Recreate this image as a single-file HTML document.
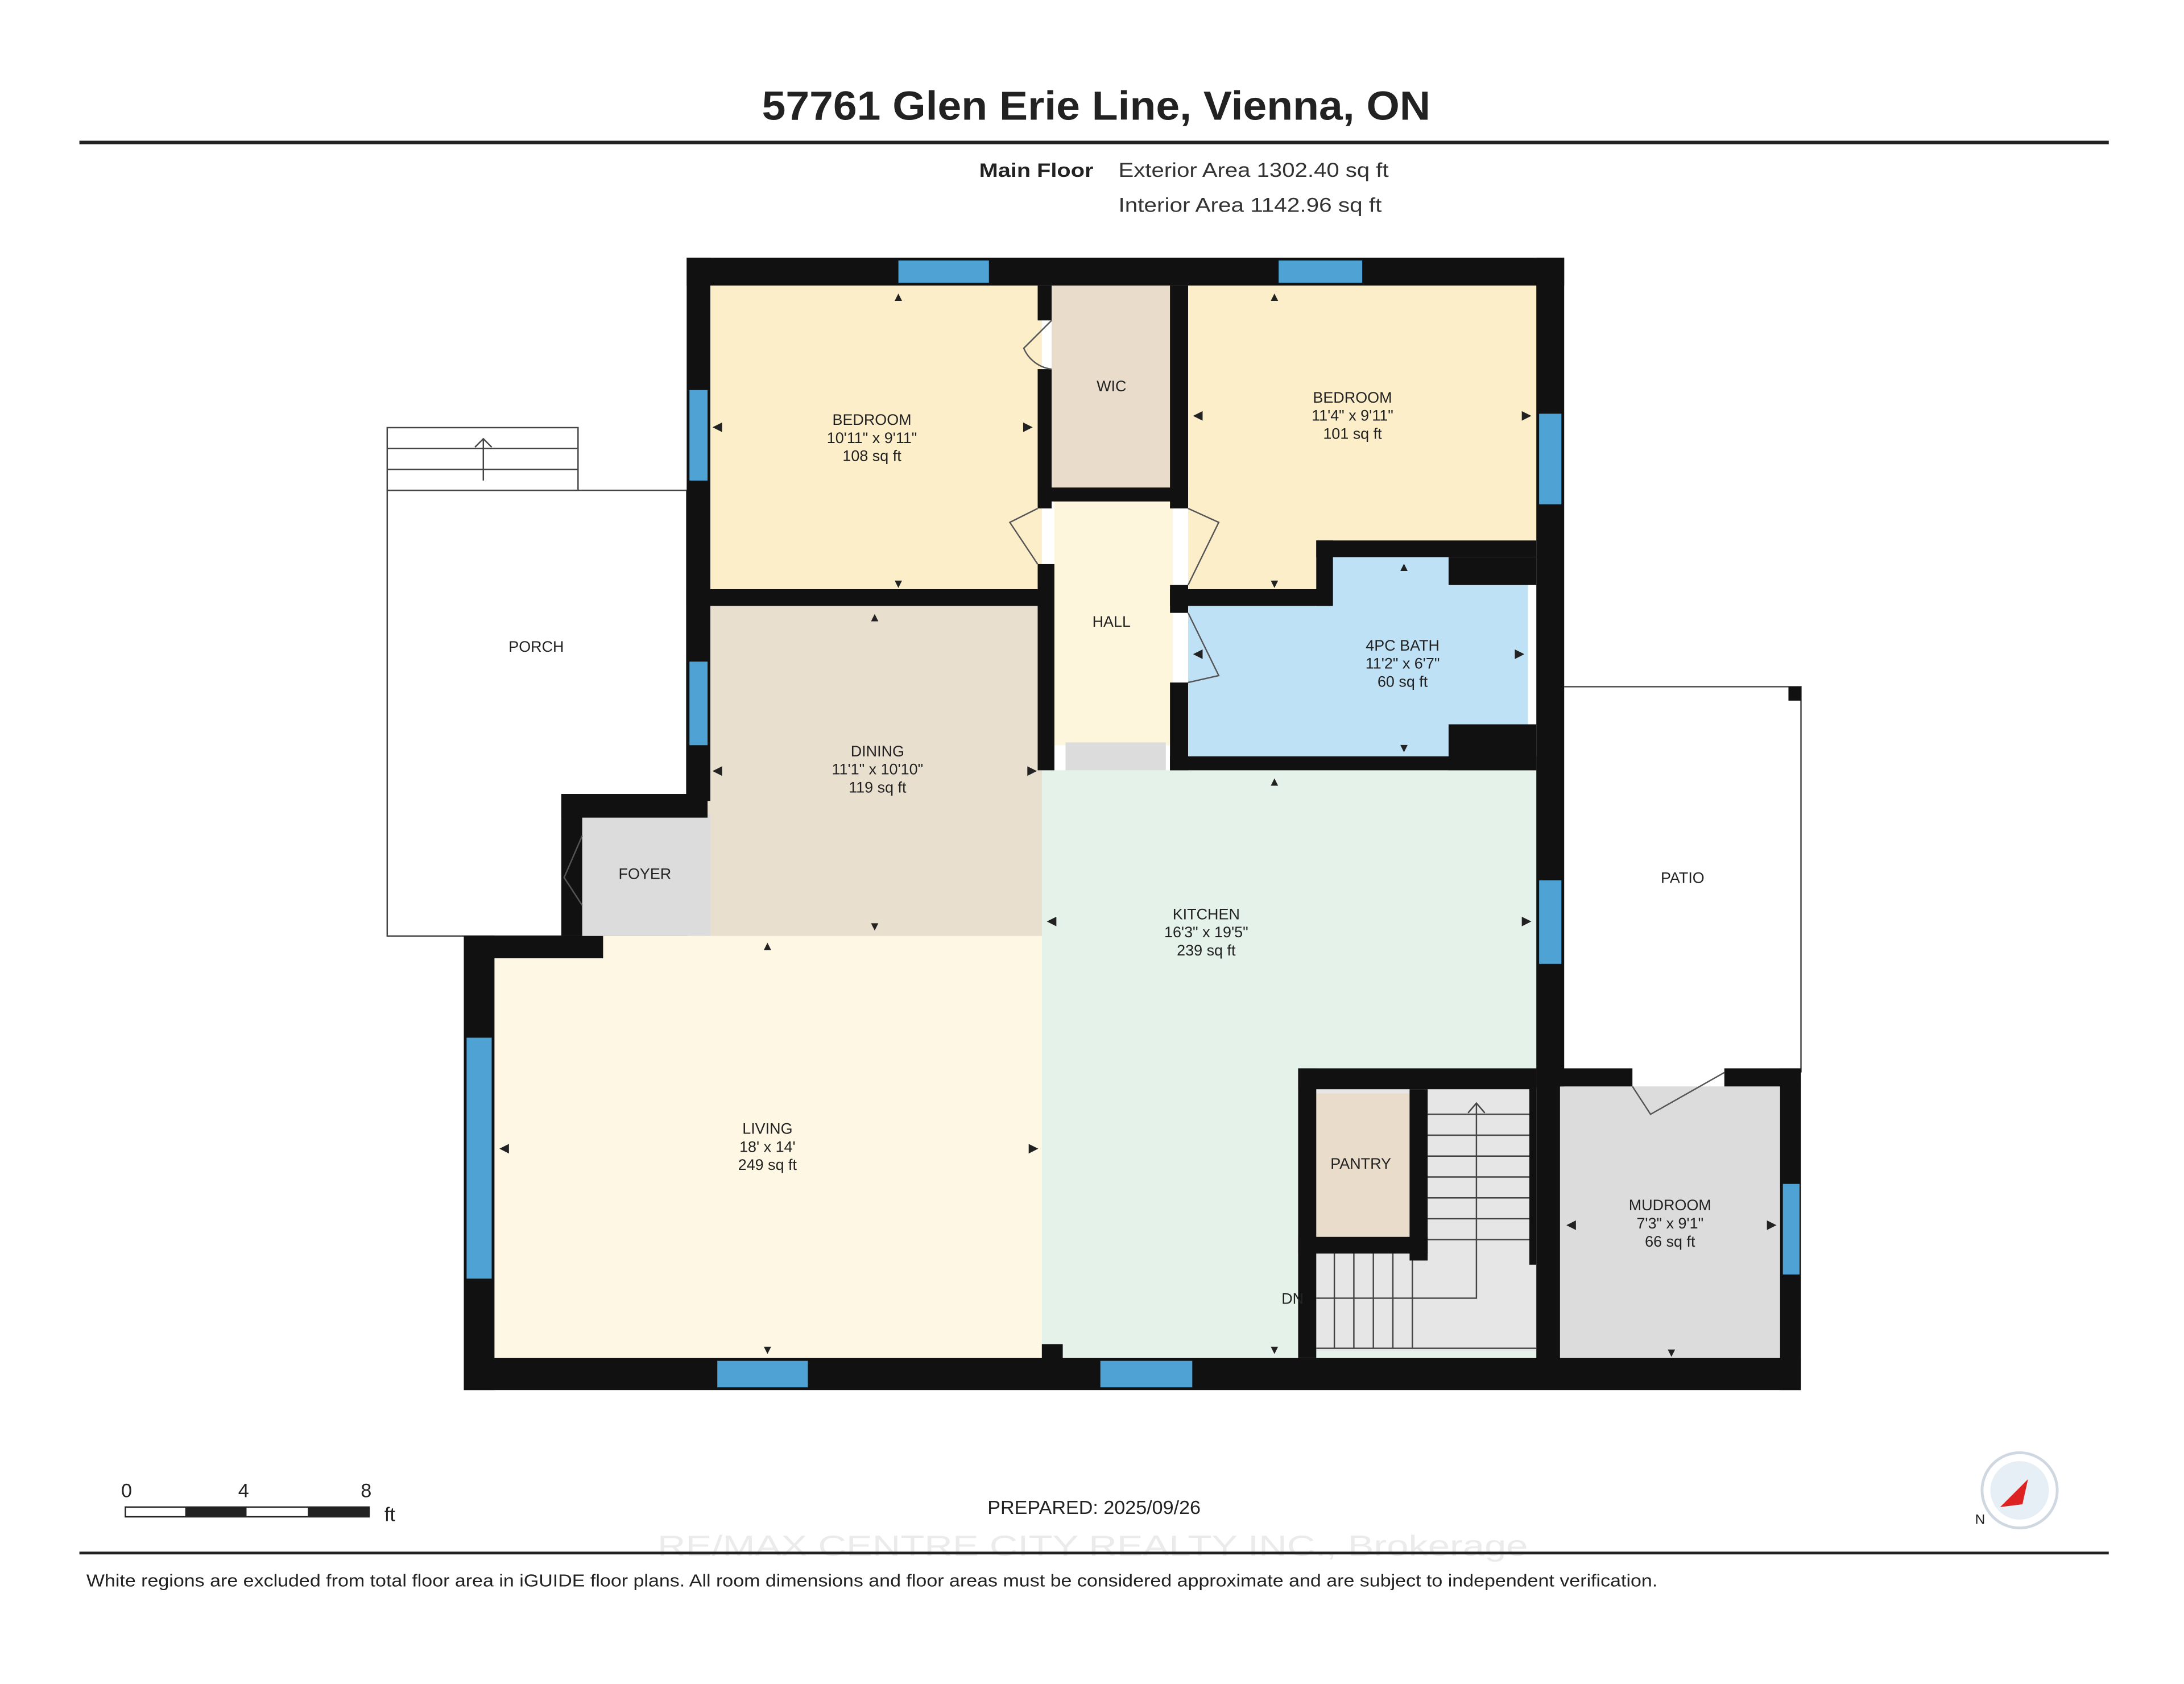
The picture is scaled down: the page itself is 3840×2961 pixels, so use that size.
<!DOCTYPE html>
<html><head><meta charset="utf-8">
<style>
html,body{margin:0;padding:0;background:#fff;}
svg{display:block;}
text{font-family:"Liberation Sans",Arial,sans-serif;}
</style></head>
<body>
<svg width="3840" height="2961" viewBox="0 0 1568 1209" xmlns="http://www.w3.org/2000/svg">
<rect x="0" y="0" width="1568" height="1209" fill="#fff"/>
<text x="547" y="86" font-size="29" font-weight="bold" fill="#222" textLength="480" lengthAdjust="spacingAndGlyphs">57761 Glen Erie Line, Vienna, ON</text>
<rect x="57" y="101" width="1457" height="2.5" fill="#222"/>
<text x="703" y="127" font-size="14" font-weight="bold" fill="#222" textLength="82" lengthAdjust="spacingAndGlyphs">Main Floor</text>
<text x="803" y="127" font-size="14.5" fill="#333" textLength="194" lengthAdjust="spacingAndGlyphs">Exterior Area 1302.40 sq ft</text>
<text x="803" y="152" font-size="14.5" fill="#333" textLength="189" lengthAdjust="spacingAndGlyphs">Interior Area 1142.96 sq ft</text>

<!-- porch & patio outlines -->
<rect x="278" y="352" width="215" height="320" fill="#fff" stroke="#444" stroke-width="1"/>
<rect x="278" y="307" width="137" height="45" fill="#fff" stroke="#444" stroke-width="1"/>
<line x1="278" y1="322" x2="415" y2="322" stroke="#444"/>
<line x1="278" y1="337" x2="415" y2="337" stroke="#444"/>
<line x1="347" y1="345" x2="347" y2="315" stroke="#444"/>
<path d="M341 321 L347 315 L353 321" fill="none" stroke="#444"/>
<path d="M1123 493 H1293 V770" fill="none" stroke="#444"/>
<rect x="1284" y="493" width="9" height="10" fill="#111"/>

<!-- room fills -->
<rect x="508" y="205" width="240" height="220" fill="#fbeec9"/>
<rect x="755" y="205" width="87" height="147" fill="#e9dccb"/>
<path d="M853 205 H1103 V390 H945 V425 H853 Z" fill="#fbeec9"/>
<rect x="757" y="360" width="85" height="175" fill="#fdf6dc"/>
<path d="M853 435 H955 V400 H1040 V420 H1097 V520 H1040 V543 H853 Z" fill="#bfe1f6"/>
<rect x="508" y="435" width="241" height="237" fill="#e9dfcf"/>
<rect x="418" y="585" width="92" height="87" fill="#dcdcdc"/>
<rect x="748" y="553" width="355" height="425" fill="#e4f2ea"/>
<rect x="355" y="672" width="393" height="305" fill="#fdf7e3"/>
<rect x="765" y="533" width="72" height="20" fill="#dcdcdc"/>
<rect x="945" y="780" width="158" height="190" fill="#e6e6e6"/>
<rect x="945" y="785" width="67" height="103" fill="#e9dccb"/>
<rect x="1120" y="780" width="160" height="198" fill="#dcdcdc"/>

<!-- stairs -->
<g stroke="#444" stroke-width="1" fill="none">
<line x1="1025" y1="800" x2="1098" y2="800"/><line x1="1025" y1="815" x2="1098" y2="815"/><line x1="1025" y1="830" x2="1098" y2="830"/><line x1="1025" y1="845" x2="1098" y2="845"/><line x1="1025" y1="860" x2="1098" y2="860"/><line x1="1025" y1="875" x2="1098" y2="875"/><line x1="1025" y1="890" x2="1098" y2="890"/>
<line x1="958" y1="900" x2="958" y2="968"/><line x1="972" y1="900" x2="972" y2="968"/><line x1="986" y1="900" x2="986" y2="968"/><line x1="1000" y1="900" x2="1000" y2="968"/><line x1="1014" y1="900" x2="1014" y2="968"/>
<line x1="945" y1="968" x2="1103" y2="968"/>
<path d="M945 932 H1060 V792"/>
<path d="M1054 799 L1060 792 L1066 799"/>
</g>

<!-- walls -->
<g fill="#111">
<rect x="493" y="185" width="630" height="20"/>
<rect x="493" y="185" width="17" height="390"/>
<rect x="1103" y="185" width="20" height="595"/>
<rect x="333" y="975" width="960" height="23"/>
<rect x="333" y="672" width="22" height="326"/>
<rect x="333" y="672" width="100" height="16"/>
<rect x="403" y="570" width="15" height="102"/>
<rect x="403" y="570" width="105" height="17"/>
<rect x="1103" y="767" width="69" height="13"/>
<rect x="1238" y="767" width="55" height="13"/>
<rect x="1278" y="767" width="15" height="231"/>
<rect x="932" y="767" width="13" height="208"/>
<rect x="932" y="767" width="171" height="15"/>
<rect x="1012" y="782" width="13" height="123"/>
<rect x="932" y="888" width="93" height="12"/>
<rect x="1098" y="780" width="5" height="128"/>
<rect x="1103" y="767" width="17" height="211"/>
<rect x="745" y="205" width="10" height="25"/>
<rect x="745" y="265" width="10" height="100"/>
<rect x="840" y="205" width="13" height="160"/>
<rect x="745" y="350" width="108" height="10"/>
<rect x="493" y="423" width="262" height="12"/>
<rect x="745" y="405" width="12" height="148"/>
<rect x="840" y="420" width="13" height="20"/>
<rect x="840" y="490" width="13" height="63"/>
<rect x="840" y="423" width="115" height="12"/>
<rect x="945" y="388" width="12" height="47"/>
<rect x="945" y="388" width="158" height="12"/>
<rect x="1040" y="400" width="63" height="20"/>
<rect x="1040" y="520" width="63" height="33"/>
<rect x="840" y="543" width="263" height="10"/>
<rect x="748" y="965" width="15" height="12"/>
</g>

<!-- windows -->
<g fill="#4fa3d4">
<rect x="645" y="187" width="65" height="16"/>
<rect x="918" y="187" width="60" height="16"/>
<rect x="495" y="280" width="13" height="65"/>
<rect x="495" y="475" width="13" height="60"/>
<rect x="1105" y="297" width="16" height="65"/>
<rect x="1105" y="632" width="16" height="60"/>
<rect x="335" y="745" width="18" height="173"/>
<rect x="515" y="977" width="65" height="19"/>
<rect x="790" y="977" width="66" height="19"/>
<rect x="1280" y="850" width="12" height="65"/>
</g>

<!-- doors -->
<g fill="none" stroke="#555" stroke-width="1">
<path d="M755 230 L735 250 A25 25 0 0 0 755 265"/>
<path d="M745 365 L725 375 L745 405"/>
<path d="M853 365 L875 375 L853 420"/>
<path d="M853 440 L875 485 L853 490"/>
<path d="M418 600 L405 630 L418 650"/>
<path d="M1172 780 L1185 800 L1238 770"/>
</g>

<!-- arrows -->
<g font-size="9" fill="#222" text-anchor="middle">
<text x="645" y="216">▲</text><text x="645" y="422">▼</text><text x="515" y="309">◀</text><text x="738" y="309">▶</text>
<text x="915" y="216">▲</text><text x="915" y="422">▼</text><text x="860" y="301">◀</text><text x="1096" y="301">▶</text>
<text x="1008" y="410">▲</text><text x="1008" y="540">▼</text><text x="860" y="472">◀</text><text x="1091" y="472">▶</text>
<text x="628" y="446">▲</text><text x="628" y="668">▼</text><text x="515" y="556">◀</text><text x="741" y="556">▶</text>
<text x="915" y="564">▲</text><text x="915" y="972">▼</text><text x="755" y="664">◀</text><text x="1096" y="664">▶</text>
<text x="551" y="682">▲</text><text x="551" y="972">▼</text><text x="362" y="827">◀</text><text x="742" y="827">▶</text>
<text x="1128" y="882">◀</text><text x="1272" y="882">▶</text><text x="1200" y="974">▼</text>
</g>

<!-- labels -->
<g font-size="11" fill="#222" text-anchor="middle">
<text x="626" y="305">BEDROOM</text><text x="626" y="318">10'11" x 9'11"</text><text x="626" y="331">108 sq ft</text>
<text x="798" y="281">WIC</text>
<text x="971" y="289">BEDROOM</text><text x="971" y="302">11'4" x 9'11"</text><text x="971" y="315">101 sq ft</text>
<text x="798" y="450">HALL</text>
<text x="1007" y="467">4PC BATH</text><text x="1007" y="480">11'2" x 6'7"</text><text x="1007" y="493">60 sq ft</text>
<text x="385" y="468">PORCH</text>
<text x="630" y="543">DINING</text><text x="630" y="556">11'1" x 10'10"</text><text x="630" y="569">119 sq ft</text>
<text x="463" y="631">FOYER</text>
<text x="1208" y="634">PATIO</text>
<text x="866" y="660">KITCHEN</text><text x="866" y="673">16'3" x 19'5"</text><text x="866" y="686">239 sq ft</text>
<text x="551" y="814">LIVING</text><text x="551" y="827">18' x 14'</text><text x="551" y="840">249 sq ft</text>
<text x="977" y="839">PANTRY</text>
<text x="928" y="936">DN</text>
<text x="1199" y="869">MUDROOM</text><text x="1199" y="882">7'3" x 9'1"</text><text x="1199" y="895">66 sq ft</text>
</g>

<!-- scale bar -->
<g font-size="14" fill="#222">
<text x="87" y="1075">0</text><text x="171" y="1075">4</text><text x="259" y="1075">8</text><text x="276" y="1092">ft</text>
<rect x="90" y="1082" width="175" height="7" fill="#fff" stroke="#222" stroke-width="1"/>
<rect x="133" y="1082" width="44" height="7" fill="#222"/>
<rect x="221" y="1082" width="44" height="7" fill="#222"/>
</g>
<text x="709" y="1087" font-size="13.5" fill="#222" textLength="153" lengthAdjust="spacingAndGlyphs">PREPARED: 2025/09/26</text>
<text x="472" y="1117" font-size="21" fill="#ebebeb" textLength="625" lengthAdjust="spacingAndGlyphs">RE/MAX CENTRE CITY REALTY INC., Brokerage</text>

<!-- compass -->
<circle cx="1450" cy="1070" r="27" fill="#fff" stroke="#cfd8e0" stroke-width="2"/>
<circle cx="1450" cy="1070" r="21" fill="#e6eef6"/>
<path d="M1436 1082 L1456 1062 L1452 1080 Z" fill="#d22"/>
<text x="1418" y="1094" font-size="10" fill="#222">N</text>

<rect x="57" y="1114" width="1457" height="2" fill="#222"/>
<text x="62" y="1139" font-size="12.5" fill="#222" textLength="1128" lengthAdjust="spacingAndGlyphs">White regions are excluded from total floor area in iGUIDE floor plans. All room dimensions and floor areas must be considered approximate and are subject to independent verification.</text>
</svg>
</body></html>
